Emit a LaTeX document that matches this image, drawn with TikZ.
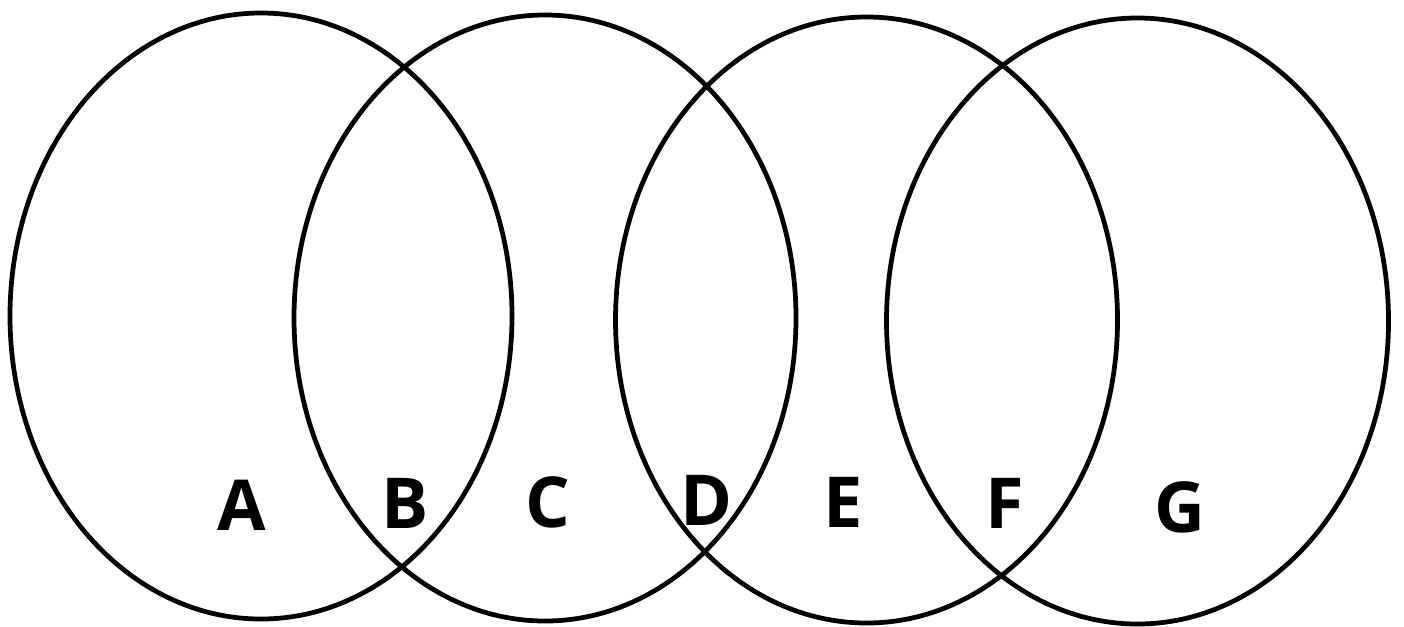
\documentclass[tikz,border=0pt]{standalone}
\usepackage{fontspec}
\setmainfont{Open Sans}
\usepackage{tikz}
\usetikzlibrary{
  shapes.geometric,
  positioning
}
\tikzset{
    setoval/.style={ellipse, draw=black, line width=1.35pt, inner sep=0pt,
        minimum width=5.02cm, minimum height=6.06cm},
    region/.style={font=\fontsize{20}{24}\selectfont\bfseries, inner sep=0pt, anchor=center}
}

\begin{document}
\begin{tikzpicture}
    \useasboundingbox (0,0) rectangle (14.04,-6.26);
    % the four sets
    \node[setoval] (setone)   at (2.61,-3.16) {};
    \node[setoval] (settwo)   at (5.45,-3.18) {};
    \node[setoval] (setthree) at (8.665,-3.20) {};
    \node[setoval] (setfour)  at (11.375,-3.21) {};
    % region labels
    \node[region] (labA) at (2.42,-5.05) {A};
    \node[region] (labB) at (4.05,-5.03) {B};
    \node[region] (labC) at (5.48,-5.02) {C};
    \node[region] (labD) at (7.07,-5.00) {D};
    \node[region] (labE) at (8.43,-5.02) {E};
    \node[region] (labF) at (10.05,-5.03) {F};
    \node[region] (labG) at (11.80,-5.07) {G};
\end{tikzpicture}
\end{document}
